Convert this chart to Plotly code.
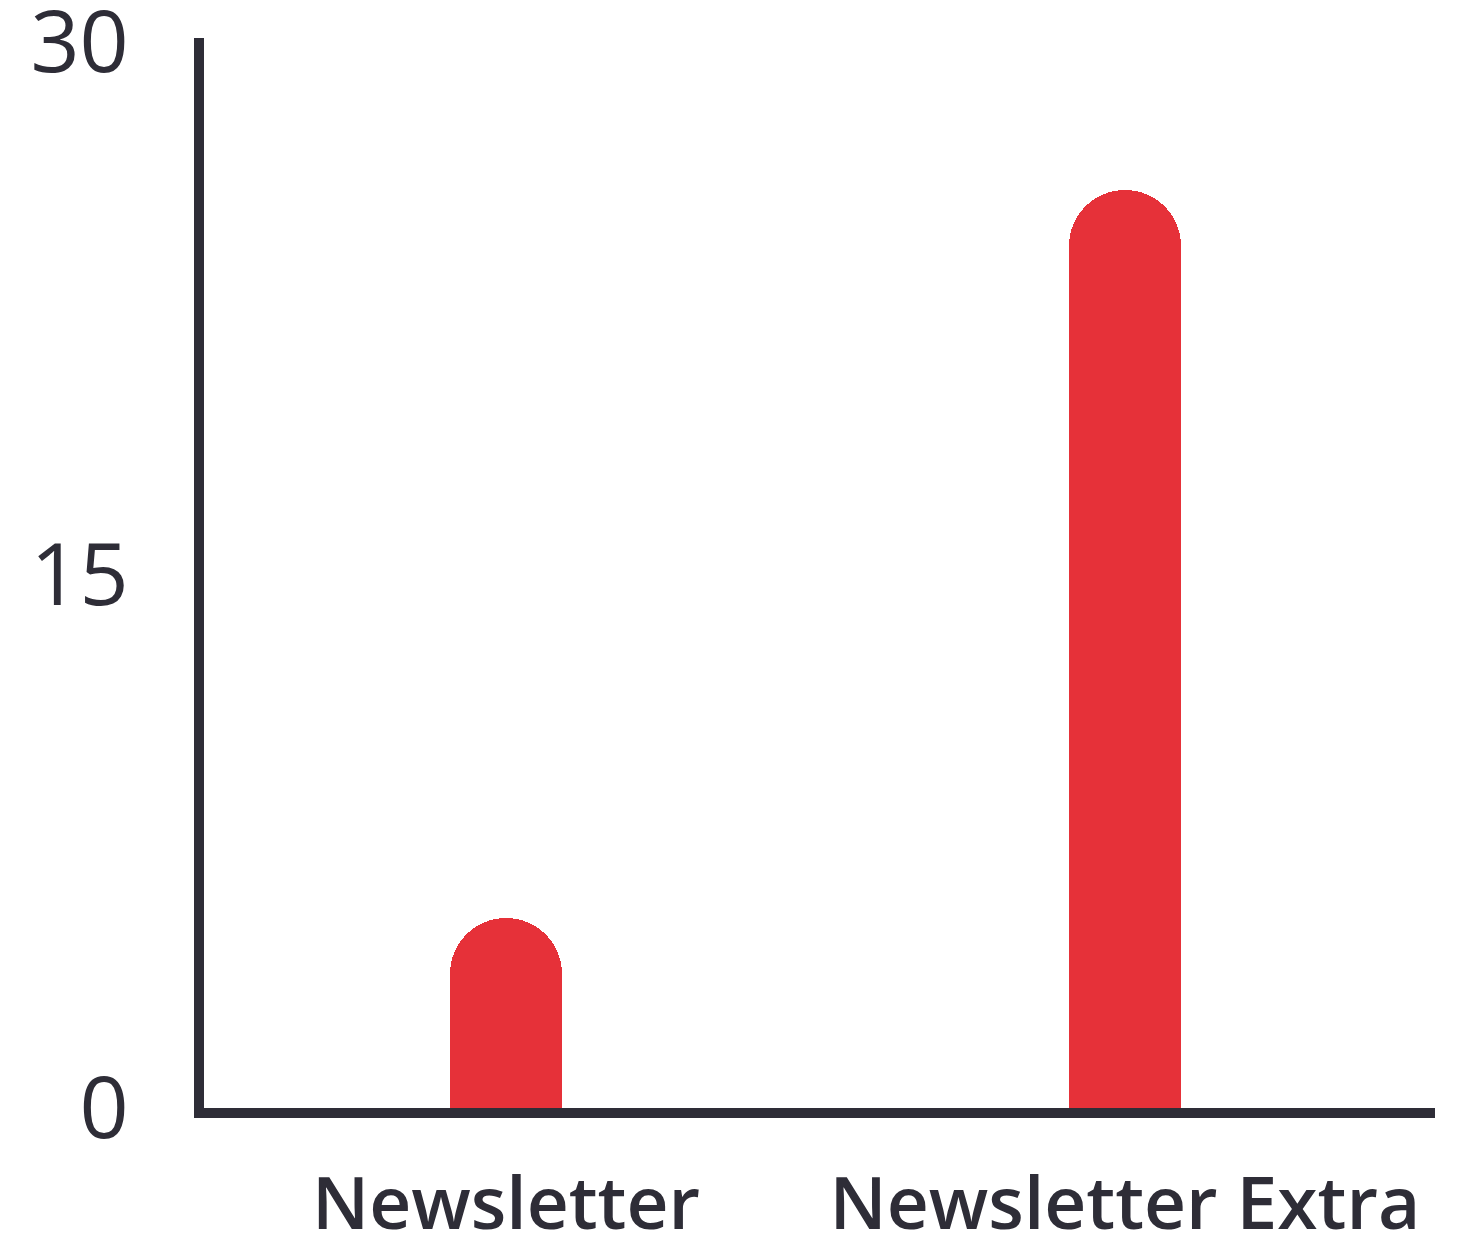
import plotly.graph_objects as go

categories = ["Newsletter", "Newsletter Extra"]
values = [5.35, 25.85]
y_ticks = [0, 15, 30]

BAR_RED = "#E63139"
DARK = "#2E2D37"
FONT = "Open Sans"

fig = go.Figure(
    go.Bar(
        x=categories,
        y=values,
        width=0.18,
        marker=dict(color=BAR_RED, line=dict(width=0), cornerradius="50%"),
        hoverinfo="skip",
    )
)

fig.update_layout(
    width=1459,
    height=1240,
    margin=dict(l=204, r=24, t=38, b=132),
    plot_bgcolor="white",
    paper_bgcolor="white",
    showlegend=False,
    bargap=0,
)

fig.update_xaxes(
    range=[-0.488, 1.501],
    showgrid=False,
    zeroline=False,
    showline=True,
    linecolor=DARK,
    linewidth=10,
    ticks="",
    automargin=False,
    tickfont=dict(family=FONT, size=73, color=DARK, weight=600),
    ticklabelstandoff=23,
    ticklabeloverflow="allow",
)

fig.update_yaxes(
    range=[0, 30.12],
    tickvals=y_ticks,
    ticktext=[str(v) for v in y_ticks],
    showgrid=False,
    zeroline=False,
    showline=True,
    linecolor=DARK,
    linewidth=10,
    ticks="",
    automargin=False,
    tickfont=dict(family=FONT, size=86, color=DARK),
    ticklabelstandoff=48,
    ticklabeloverflow="allow",
)

fig.write_html(
    "out.html",
    config={"displayModeBar": False},
    post_script="document.body.style.margin='0';document.body.style.overflow='hidden';",
)
